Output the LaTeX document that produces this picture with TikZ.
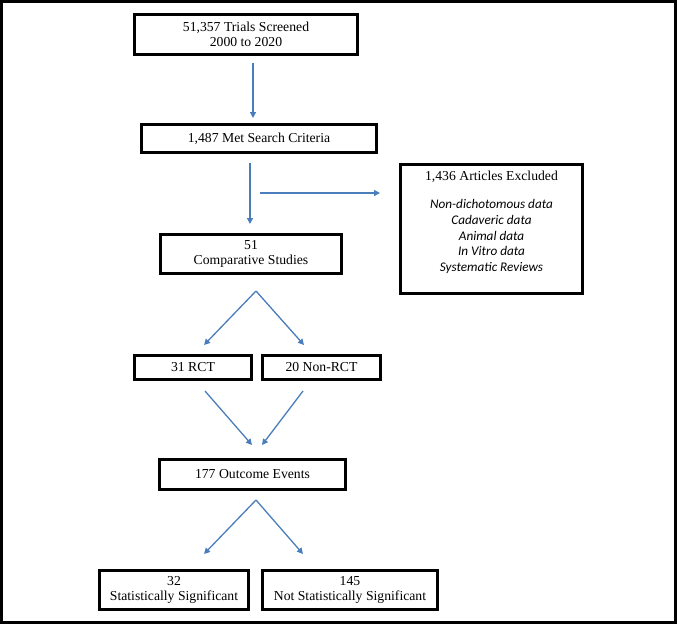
\documentclass[tikz,border=0pt]{standalone}
\usepackage{fontspec}
\setmainfont{Liberation Serif}
\newfontfamily\listfont{Carlito}
\usetikzlibrary{arrows.meta}
\definecolor{arrowblue}{HTML}{4A7EBB}
\begin{document}
\begin{tikzpicture}[x=1pt,y=-1pt,
  box/.style={draw=black, line width=2.6pt, inner sep=0pt, align=center,
    font=\fontsize{13.7}{15.5}\selectfont},
  plain/.style={inner sep=0pt, align=center, font=\fontsize{13.7}{15.5}\selectfont},
  listtext/.style={inner sep=0pt, align=center, font=\listfont\itshape\fontsize{13.2}{15.7}\selectfont},
  conn/.style={draw=arrowblue, line width=1.3pt, -{Triangle[length=6pt,width=6pt]}},
]
\useasboundingbox (0,0) rectangle (677,624);
\draw[line width=3pt] (1.5,1.5) rectangle (675.5,622.5);

\node[box, minimum width=223pt, minimum height=40pt] (screened) at (246,34.5) {51,357 Trials Screened\\2000 to 2020};
\node[box, minimum width=235pt, minimum height=28pt] (criteria) at (259,138.5) {1,487 Met Search Criteria};
\node[box, minimum width=181pt, minimum height=39pt] (comp) at (251,254) {51\\Comparative Studies};
\node[box, minimum width=182pt, minimum height=129pt] (excl) at (491.5,229) {};
\node[plain] (exclhead) at (491.5,177) {1,436 Articles Excluded};
\node[listtext] (excllist) at (491.5,236.5) {Non-dichotomous data\\Cadaveric data\\Animal data\\In Vitro data\\Systematic Reviews};
\node[box, minimum width=117pt, minimum height=24pt] (rct) at (193,367.5) {31 RCT};
\node[box, minimum width=118pt, minimum height=24pt] (nonrct) at (321.5,367.5) {20 Non-RCT};
\node[box, minimum width=186pt, minimum height=30pt] (events) at (252.5,474.5) {177 Outcome Events};
\node[box, minimum width=149pt, minimum height=39pt] (sig) at (174,590) {32\\Statistically Significant};
\node[box, minimum width=175pt, minimum height=39pt] (nonsig) at (350,590) {145\\Not Statistically Significant};

% connector end points
\coordinate (a1s) at (253,63);   \coordinate (a1e) at (253,118);
\coordinate (a2s) at (250,163);  \coordinate (a2e) at (250,224);
\coordinate (hs) at (260,193);   \coordinate (he) at (380,193);
\coordinate (d1apex) at (256,291);
\coordinate (d1l) at (204,345);  \coordinate (d1r) at (304,345);
\coordinate (c1s) at (205,391);  \coordinate (c1e) at (252,445);
\coordinate (c2s) at (303,391);  \coordinate (c2e) at (262,445);
\coordinate (d2apex) at (256,500);
\coordinate (d2l) at (204,554);  \coordinate (d2r) at (303,554);

\draw[conn] (a1s) -- (a1e);
\draw[conn] (a2s) -- (a2e);
\draw[conn] (hs) -- (he);
\draw[conn] (d1apex) -- (d1l);
\draw[conn] (d1apex) -- (d1r);
\draw[conn] (c1s) -- (c1e);
\draw[conn] (c2s) -- (c2e);
\draw[conn] (d2apex) -- (d2l);
\draw[conn] (d2apex) -- (d2r);
\end{tikzpicture}
\end{document}
